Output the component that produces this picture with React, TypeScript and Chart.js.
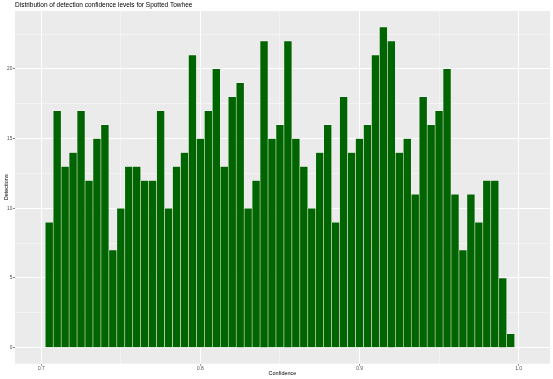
import React, { useEffect, useRef } from "react";
import { Chart, registerables } from "chart.js";

Chart.register(...registerables);

const chartTitle = "Distribution of detection confidence levels for Spotted Towhee";
const xTitle = "Confidence";
const yTitle = "Detections";

const binCenters = [
  0.705, 0.71, 0.715, 0.72, 0.725, 0.73, 0.735, 0.74, 0.745, 0.75,
  0.755, 0.76, 0.765, 0.77, 0.775, 0.78, 0.785, 0.79, 0.795, 0.8,
  0.805, 0.81, 0.815, 0.82, 0.825, 0.83, 0.835, 0.84, 0.845, 0.85,
  0.855, 0.86, 0.865, 0.87, 0.875, 0.88, 0.885, 0.89, 0.895, 0.9,
  0.905, 0.91, 0.915, 0.92, 0.925, 0.93, 0.935, 0.94, 0.945, 0.95,
  0.955, 0.96, 0.965, 0.97, 0.975, 0.98, 0.985, 0.99, 0.995,
];

const counts = [
  9, 17, 13, 14, 17, 12, 15, 16, 7, 10,
  13, 13, 12, 12, 17, 10, 13, 14, 21, 15,
  17, 20, 13, 18, 19, 10, 12, 22, 15, 16,
  22, 15, 13, 10, 14, 16, 9, 18, 14, 15,
  16, 21, 23, 22, 14, 15, 11, 18, 16, 17,
  20, 11, 7, 11, 9, 12, 12, 5, 1,
];

const xMajorTicks = [0.7, 0.8, 0.9, 1.0];
const xMinorTicks = [0.75, 0.85, 0.95];
const yMajorTicks = [0, 5, 10, 15, 20];
const yMinorTicks = [2.5, 7.5, 12.5, 17.5, 22.5];

const FONT = "'Liberation Sans', Arial, sans-serif";

const isMajor = (list: number[], v: number) => list.some((m) => Math.abs(m - v) < 1e-9);

const ggPlugin = {
  id: "ggStyle",
  beforeDraw(chart: any) {
    const { ctx, chartArea } = chart;
    ctx.save();
    ctx.fillStyle = "#FFFFFF";
    ctx.fillRect(0, 0, chart.width, chart.height);
    ctx.fillStyle = "#EBEBEB";
    ctx.fillRect(chartArea.left, chartArea.top, chartArea.right - chartArea.left, chartArea.bottom - chartArea.top);
    ctx.restore();
  },
  afterDraw(chart: any) {
    const { ctx, chartArea } = chart;
    ctx.save();
    ctx.fillStyle = "#000000";
    ctx.font = `6.5px ${FONT}`;
    ctx.textAlign = "left";
    ctx.textBaseline = "middle";
    ctx.fillText(chartTitle, chartArea.left, 5.5);

    ctx.font = `5.5px ${FONT}`;
    ctx.textAlign = "center";
    ctx.fillText(xTitle, (chartArea.left + chartArea.right) / 2, 373.3);

    ctx.translate(6.2, (chartArea.top + chartArea.bottom) / 2);
    ctx.rotate(-Math.PI / 2);
    ctx.fillText(yTitle, 0, 0);
    ctx.restore();
  },
};

export default function App() {
  const canvasRef = useRef<HTMLCanvasElement | null>(null);

  useEffect(() => {
    if (!canvasRef.current) return;
    const chart = new Chart(canvasRef.current, {
      type: "bar",
      data: {
        datasets: [
          {
            data: binCenters.map((x, i) => ({ x, y: counts[i] })),
            backgroundColor: "#006400",
            borderColor: "rgba(255,255,255,0.45)",
            borderWidth: 0.6,
            barPercentage: 1,
            categoryPercentage: 1,
          },
        ],
      },
      options: {
        animation: false,
        responsive: false,
        devicePixelRatio: 1,
        layout: { padding: { left: 0, top: 11, right: 3, bottom: 0 } },
        plugins: {
          legend: { display: false },
          title: { display: false },
          tooltip: { enabled: false },
        },
        scales: {
          x: {
            type: "linear",
            min: 0.6835,
            max: 1.0197,
            offset: false,
            border: { display: false },
            grid: {
              offset: false,
              drawTicks: true,
              tickLength: 2,
              color: (c: any) => (isMajor(xMajorTicks, c.tick?.value) ? "#FFFFFF" : "rgba(255,255,255,0.7)"),
              lineWidth: (c: any) => (isMajor(xMajorTicks, c.tick?.value) ? 1 : 0.6),
              tickColor: (c: any) => (isMajor(xMajorTicks, c.tick?.value) ? "#333333" : "rgba(0,0,0,0)"),
              tickWidth: 0.6,
            },
            ticks: {
              autoSkip: false,
              maxRotation: 0,
              padding: 0.5,
              color: "#4D4D4D",
              font: { family: FONT, size: 4.8 },
              callback: (v: any) => (isMajor(xMajorTicks, Number(v)) ? Number(v).toFixed(1) : ""),
            },
            afterBuildTicks: (scale: any) => {
              scale.ticks = [...xMajorTicks, ...xMinorTicks].sort((a, b) => a - b).map((v) => ({ value: v }));
            },
            afterFit: (scale: any) => {
              scale.height = 15.3;
            },
          },
          y: {
            type: "linear",
            min: -1.15,
            max: 24.15,
            border: { display: false },
            grid: {
              drawTicks: true,
              tickLength: 2,
              color: (c: any) => (isMajor(yMajorTicks, c.tick?.value) ? "#FFFFFF" : "rgba(255,255,255,0.7)"),
              lineWidth: (c: any) => (isMajor(yMajorTicks, c.tick?.value) ? 1 : 0.6),
              tickColor: (c: any) => (isMajor(yMajorTicks, c.tick?.value) ? "#333333" : "rgba(0,0,0,0)"),
              tickWidth: 0.6,
            },
            ticks: {
              autoSkip: false,
              padding: 0.6,
              color: "#4D4D4D",
              font: { family: FONT, size: 4.8 },
              callback: (v: any) => (isMajor(yMajorTicks, Number(v)) ? String(Number(v)) : ""),
            },
            afterBuildTicks: (scale: any) => {
              scale.ticks = [...yMajorTicks, ...yMinorTicks].sort((a, b) => a - b).map((v) => ({ value: v }));
            },
            afterFit: (scale: any) => {
              scale.width = 15;
            },
          },
        },
      },
      plugins: [ggPlugin],
    } as any);
    return () => chart.destroy();
  }, []);

  return (
    <div style={{ position: "fixed", left: 0, top: 0, width: 553, height: 379, background: "#FFFFFF" }}>
      <canvas ref={canvasRef} width={553} height={379} style={{ display: "block", width: 553, height: 379 }} />
    </div>
  );
}
